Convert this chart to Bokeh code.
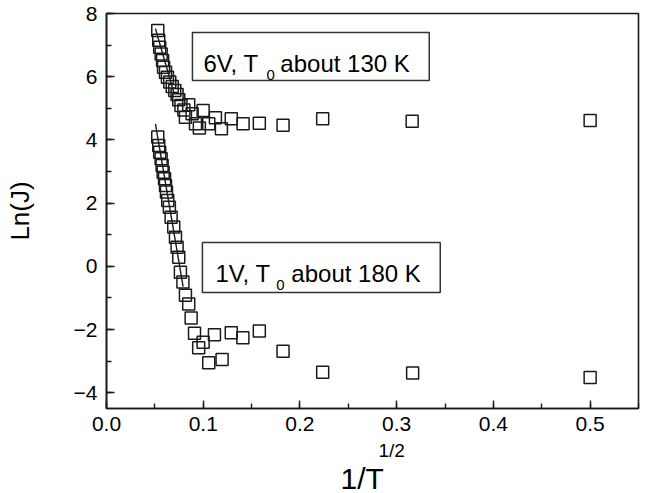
from bokeh.plotting import figure
from bokeh.models import Label, BoxAnnotation, SingleIntervalTicker, CustomJSTickFormatter, Title
from bokeh.embed import file_html
from bokeh.resources import INLINE

# ---- data ----
x_6v = [0.053, 0.054, 0.055, 0.0565, 0.058, 0.059, 0.061, 0.063, 0.0654, 0.068,
        0.0706, 0.073, 0.0747, 0.077, 0.080, 0.085, 0.0816, 0.0885, 0.092, 0.096,
        0.0999, 0.1057, 0.1126, 0.1188, 0.129, 0.1412, 0.158, 0.1825, 0.2235,
        0.316, 0.5]
y_6v = [7.46, 7.15, 6.93, 6.72, 6.51, 6.30, 6.14, 5.98, 5.83, 5.69,
        5.56, 5.44, 5.27, 5.09, 4.95, 5.11, 4.72, 4.83, 4.51, 4.38,
        4.93, 4.51, 4.70, 4.35, 4.67, 4.51, 4.53, 4.46, 4.67,
        4.59, 4.61]

x_1v = [0.053, 0.054, 0.055, 0.0565, 0.0575, 0.0586, 0.060, 0.061, 0.062, 0.0633,
        0.065, 0.0668, 0.0695, 0.0713, 0.073, 0.0747, 0.0764, 0.079, 0.0816, 0.085,
        0.0875, 0.091, 0.0999, 0.0953, 0.1116, 0.1057, 0.1195, 0.129, 0.141, 0.158,
        0.1825, 0.2235, 0.3165, 0.5]
y_1v = [4.09, 3.82, 3.61, 3.40, 3.19, 2.98, 2.77, 2.56, 2.35, 2.08,
        1.87, 1.55, 1.24, 0.92, 0.60, 0.29, -0.19, -0.50, -0.92, -1.19,
        -1.64, -2.12, -2.40, -2.58, -2.17, -3.05, -2.95, -2.10, -2.26, -2.05,
        -2.69, -3.35, -3.38, -3.52]

fit_6v_x = [0.0506, 0.0695]
fit_6v_y = [7.52, 5.51]
fit_1v_x = [0.0506, 0.0792]
fit_1v_y = [4.51, -0.64]

FONT = "Liberation Sans"
INK = "#1a1a1a"

p = figure(width=651, height=493, x_range=(0, 0.55), y_range=(-4.5, 8),
           output_backend="svg", toolbar_location=None,
           min_border_left=106, min_border_right=13, min_border_top=13,
           min_border_bottom=85)
p.xgrid.visible = False
p.ygrid.visible = False
p.outline_line_color = INK
p.outline_line_width = 1.6
p.background_fill_color = "white"
p.border_fill_color = "white"

p.xaxis.ticker = SingleIntervalTicker(interval=0.1, num_minor_ticks=2)
p.yaxis.ticker = SingleIntervalTicker(interval=2, num_minor_ticks=2)
for ax in (p.xaxis[0], p.yaxis[0]):
    ax.axis_line_color = INK
    ax.axis_line_width = 1.6
    ax.major_tick_line_color = INK
    ax.minor_tick_line_color = INK
    ax.major_tick_line_width = 1.4
    ax.minor_tick_line_width = 1.4
    ax.major_tick_in = 8
    ax.major_tick_out = 0
    ax.minor_tick_in = 5
    ax.minor_tick_out = 0
    ax.major_label_text_font = FONT
    ax.major_label_text_font_size = "21px"
    ax.major_label_text_color = "black"
p.xaxis.formatter = CustomJSTickFormatter(code="return tick.toFixed(1);")
p.xaxis.major_label_standoff = 8
p.yaxis.major_label_standoff = 9

p.yaxis.axis_label = "Ln(J)"
p.yaxis.axis_label_text_font = FONT
p.yaxis.axis_label_text_font_style = "normal"
p.yaxis.axis_label_text_font_size = "26px"
p.yaxis.axis_label_text_color = "black"
p.yaxis.axis_label_standoff = 36

# x-axis title "1/T" with superscript "1/2" (two stacked titles below the axis)
p.add_layout(Title(text="1/2", align="left", offset=272, standoff=9,
                   text_font=FONT, text_font_size="19px", text_font_style="normal",
                   text_color="black"), "below")
p.add_layout(Title(text="1/T", align="left", offset=234, standoff=-12,
                   text_font=FONT, text_font_size="30px", text_font_style="normal",
                   text_color="black"), "below")

# fit lines
p.line(fit_6v_x, fit_6v_y, line_color=INK, line_width=1.4)
p.line(fit_1v_x, fit_1v_y, line_color=INK, line_width=1.4)

# data squares
p.scatter(x_6v, y_6v, marker="square", size=12, fill_color=None,
          line_color=INK, line_width=1.5)
p.scatter(x_1v, y_1v, marker="square", size=12, fill_color=None,
          line_color=INK, line_width=1.5)

# annotation boxes
def xd(px):
    return (px - 106) / 968.0

def yd(py):
    return 8 - (py - 13) / 31.6

def note(left, right, top, bottom, tx, base, subx, subbase, restx, volt, rest):
    p.add_layout(BoxAnnotation(left=xd(left), right=xd(right), top=yd(top), bottom=yd(bottom),
                               fill_color="white", fill_alpha=1.0,
                               line_color="#333333", line_alpha=1.0, line_width=1.5,
                               level="annotation"))
    p.add_layout(Label(x=xd(tx), y=yd(base), text=volt, text_font=FONT,
                       text_font_size="24px", text_color="black", text_baseline="alphabetic"))
    p.add_layout(Label(x=xd(subx), y=yd(subbase), text="0", text_font=FONT,
                       text_font_size="15px", text_color="black", text_baseline="alphabetic"))
    p.add_layout(Label(x=xd(restx), y=yd(base), text=rest, text_font=FONT,
                       text_font_size="24px", text_color="black", text_baseline="alphabetic"))

note(192, 429, 32, 80, 203, 63, 266, 74, 280, "6V, T", "about 130 K")
note(202, 440, 242, 292, 215, 273, 276, 284, 291, "1V, T", "about 180 K")

open("out.html", "w").write(file_html(p, INLINE))
